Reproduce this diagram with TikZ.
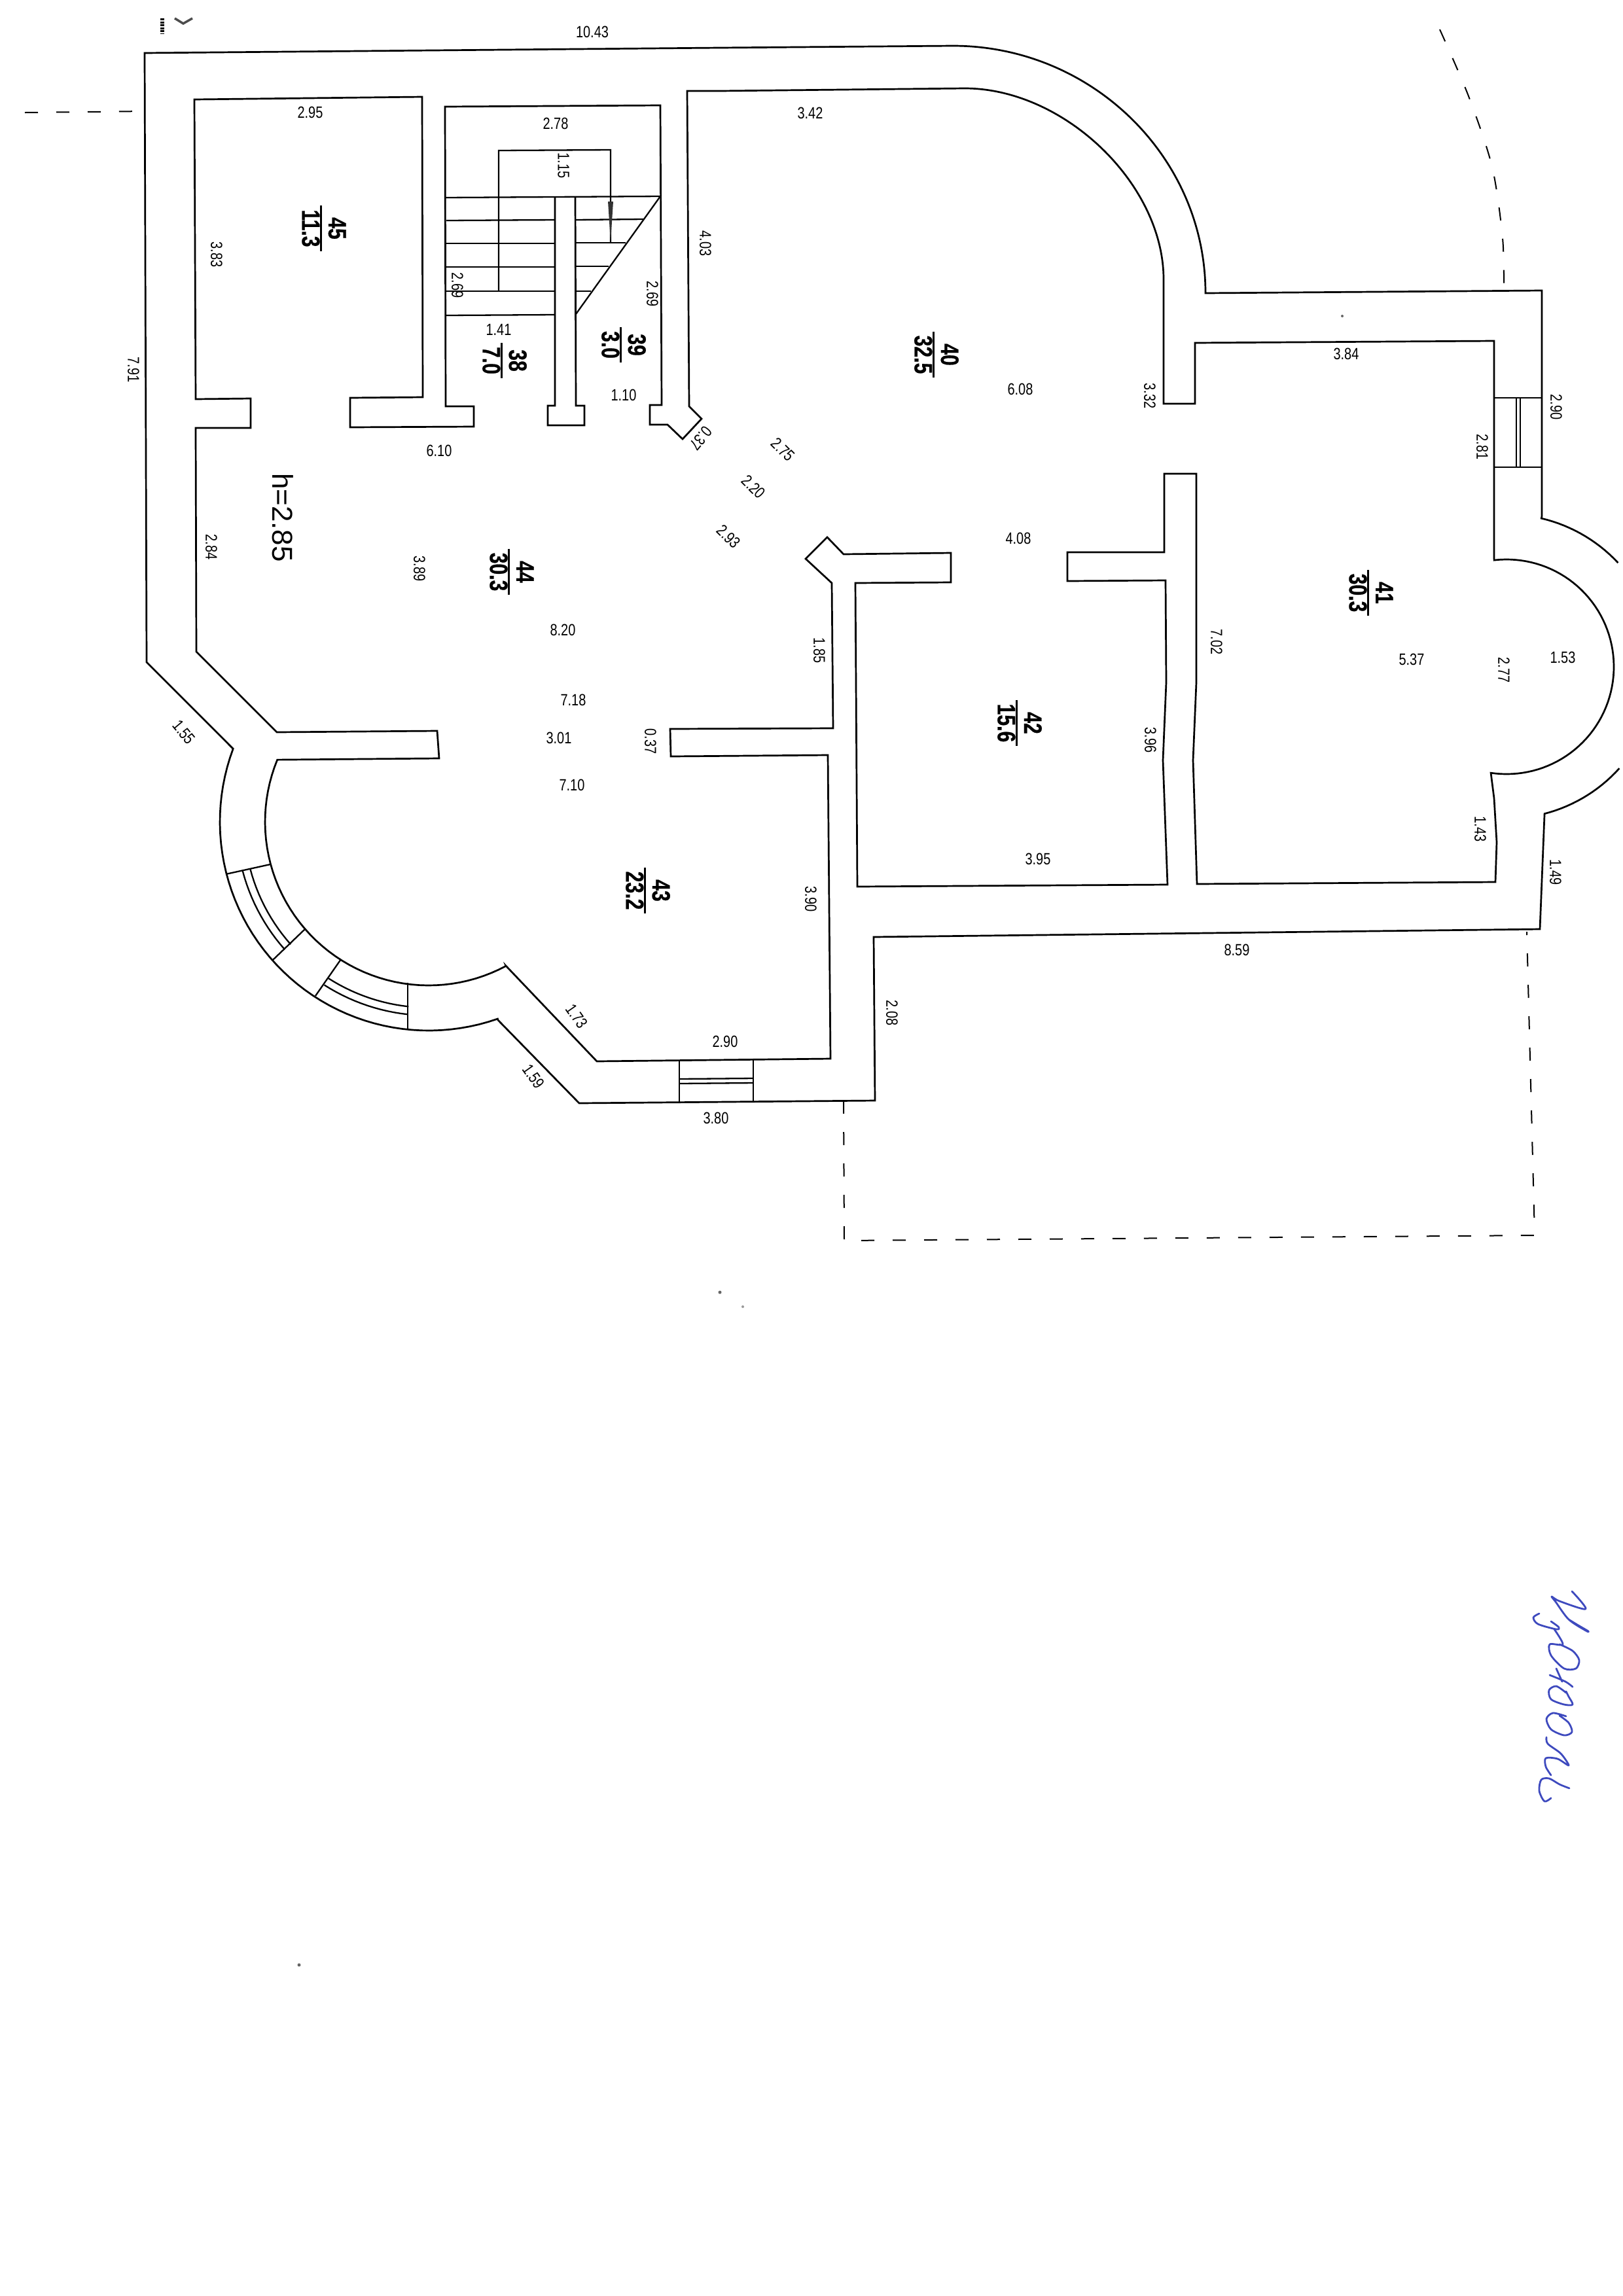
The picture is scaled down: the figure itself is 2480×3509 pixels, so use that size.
\documentclass[tikz,border=0pt]{standalone}
\usepackage{fontspec}
\newfontfamily\dimfont[FakeStretch=0.8]{Liberation Sans}
\newfontfamily\roomfont[FakeStretch=0.78,BoldFeatures={FakeStretch=0.78,FakeBold=0.5}]{Liberation Sans}
\newfontfamily\heightfont{Liberation Sans}
\usepackage{tikz}
\definecolor{penblue}{RGB}{62,74,190}
\setlength{\arrayrulewidth}{0.3mm}
\newcommand{\areafrac}[2]{\renewcommand{\arraystretch}{0.82}%
  \begin{tabular}{@{\hspace{0.6mm}}c@{\hspace{0.6mm}}}#1\\\hline #2\end{tabular}}
\tikzset{
  wall_l/.style = {draw=black, line width=0.27mm, line join=miter},
  thin_l/.style = {draw=black, line width=0.23mm},
  dash_l/.style = {draw=black, line width=0.2mm, dash pattern=on 2mm off 2.8mm},
  pen_l/.style = {draw=penblue, line width=0.28mm, line cap=round, line join=round},
  dim_n/.style = {inner sep=0pt, font=\dimfont\fontsize{7.1pt}{8pt}\selectfont},
  dim_v/.style = {dim_n, rotate=-90},
  room_n/.style = {inner sep=0pt, rotate=-90,
    font=\roomfont\bfseries\fontsize{11pt}{12pt}\selectfont},
}

\begin{document}
\begin{tikzpicture}[x=0.1mm,y=-0.1mm]
\useasboundingbox (0,0) rectangle (2480,3509);

% outer walls
\draw[wall_l] plot[domain=42:75.5, samples=16] ({2302+232*cos(\x)},{1019+232*sin(\x)})
  -- (2353,1420) -- (1335,1432) -- (1337,1682) -- (885,1686) -- (761,1559)
  -- plot[domain=70.7:200.5, samples=50] ({655+319*cos(\x)},{1256+319*sin(\x)})
  -- (224,1012) -- (221,81) -- (1100,73) -- (1456,70)
  .. controls (1668,70) and (1842,240) .. (1842,448)
  -- (2356,444) -- (2356,789)
  -- plot[domain=-76.8:-43, samples=16] ({2302+233*cos(\x)},{1019+233*sin(\x)});

% inner walls
\draw[wall_l] (297,152) -- (645,148) -- (646,607) -- (535,608) -- (535,653) -- (724,652)
  -- (724,621) -- (681,621) -- (680,163) -- (1009,161) -- (1011,619) -- (993,619) -- (993,649)
  -- (1020,649) -- (1043,671) -- (1072,640) -- (1053,621) -- (1050,139) -- (1100,139) -- (1474,135)
  .. controls (1626,135) and (1778,281) .. (1778,427)
  -- (1778,617) -- (1826,617) -- (1826,524) -- (2283,521) -- (2283,854)
  -- plot[domain=-96.6:98.4, samples=70] ({2302+164*cos(\x)},{1019+164*sin(\x)})
  -- (2283,1220) -- (2287,1287) -- (2285,1348) -- (1829,1351) -- (1823,1162) -- (1828,1043)
  -- (1828,724) -- (1779,724) -- (1779,844) -- (1631,844) -- (1631,888) -- (1781,887)
  -- (1782,1043) -- (1777,1162) -- (1784,1352) -- (1310,1355) -- (1307,891) -- (1453,890)
  -- (1453,845) -- (1289,847) -- (1264,821) -- (1231,854) -- (1271,891) -- (1273,1113)
  -- (1024,1114) -- (1025,1156) -- (1265,1154) -- (1269,1618) -- (912,1622) -- (773,1476)
  -- plot[domain=61.8:202.3, samples=50] ({655+250*cos(\x)},{1256+250*sin(\x)})
  -- (671,1159) -- (668,1117) -- (423,1119) -- (300,996) -- (299,654) -- (383,654) -- (383,609)
  -- (299,610) -- cycle;

% wall between the flights
\draw[wall_l] (848,301) -- (848,620) -- (837,620) -- (837,650) -- (893,650) -- (893,620)
  -- (880,620) -- (879,301);

% stairs
\draw[thin_l] (680,302) -- (1009,300) -- (880,480);
\draw[thin_l] (682,337) -- (848,336);
\draw[thin_l] (879,336) -- (983,335);
\draw[thin_l] (682,372) -- (848,372);
\draw[thin_l] (879,371) -- (956,371);
\draw[thin_l] (682,408) -- (848,408);
\draw[thin_l] (879,407) -- (930,407);
\draw[thin_l] (681,445) -- (848,445);
\draw[thin_l] (879,445) -- (903,445);
\draw[thin_l] (681,482) -- (848,481);
\draw[thin_l] (762,445) -- (762,230) -- (933,229) -- (933,370);
\fill[black!80] (929,308) -- (937,308) -- (933,370) -- cycle;

% windows
\draw[thin_l] (2283,608) -- (2357,608);
\draw[thin_l] (2283,714) -- (2357,714);
\draw[thin_l] (2317,608) -- (2317,714);
\draw[thin_l] (2323,608) -- (2323,714);
\draw[thin_l] (1038,1621) -- (1038,1685);
\draw[thin_l] (1151,1620) -- (1151,1683);
\draw[thin_l] (1038,1649) -- (1151,1648);
\draw[thin_l] (1038,1656) -- (1151,1655);
\draw[thin_l] (345,1336) -- (413,1321);
\draw[thin_l] (417,1467) -- (467,1419);
\draw[thin_l] (482,1522) -- (521,1466);
\draw[thin_l] (623,1502) -- (623,1574);
\draw[thin_l] plot[domain=165.2:138.4, samples=14] ({655+294*cos(\x)},{1256+294*sin(\x)});
\draw[thin_l] plot[domain=165.2:138.4, samples=14] ({655+282*cos(\x)},{1256+282*sin(\x)});
\draw[thin_l] plot[domain=122.6:96.2, samples=14] ({655+296*cos(\x)},{1256+296*sin(\x)});
\draw[thin_l] plot[domain=122.6:96.2, samples=14] ({655+284*cos(\x)},{1256+284*sin(\x)});

% dashed outlines
\draw[dash_l] (38,172) -- (222,170);
\draw[dash_l] plot[smooth] coordinates {(2200,45) (2244,147) (2280,255) (2296,364) (2298,444)};
\draw[dash_l] (1289,1682) -- (1290,1896) -- (2345,1888) -- (2333,1424);

% scan marks
\draw[black, line width=0.6mm, dash pattern=on 0.3mm off 0.15mm] (248,28) -- (248,51);
\draw[black!70, line width=0.35mm] (267,28) -- (280,36) -- (294,28);
\fill[black!60] (2051,483) circle (2);
\fill[black!60] (1100,1975) circle (2.5);
\fill[black!40] (1135,1997) circle (2);
\fill[black!60] (457,3003) circle (2.5);

% handwriting
\draw[pen_l] plot[smooth] coordinates {(2402,2432) (2423,2459) (2383,2447) (2371,2440) (2377,2448)
  (2397,2475) (2423,2492) (2427,2493) (2410,2483) (2397,2475)};
\draw[pen_l] plot[smooth] coordinates {(2352,2466) (2343,2472) (2350,2482) (2378,2490) (2382,2487)
  (2370,2478)};
\draw[pen_l] plot[smooth] coordinates {(2375,2490) (2388,2513) (2368,2513) (2370,2530) (2390,2550)
  (2408,2550) (2413,2537) (2403,2523) (2383,2513)};
\draw[pen_l] plot[smooth] coordinates {(2368,2560) (2392,2570) (2403,2578)};
\draw[pen_l] plot[smooth] coordinates {(2378,2550) (2387,2570)};
\draw[pen_l] plot[smooth] coordinates {(2393,2587) (2378,2577) (2367,2583) (2370,2597) (2390,2605)
  (2403,2605) (2397,2593) (2393,2585)};
\draw[pen_l] plot[smooth] coordinates {(2393,2623) (2373,2618) (2363,2627) (2370,2643) (2390,2652)
  (2402,2647) (2397,2633) (2383,2622)};
\draw[pen_l] plot[smooth] coordinates {(2363,2655) (2365,2665) (2385,2680) (2397,2698) (2380,2688)
  (2362,2687) (2362,2700) (2370,2713)};
\draw[pen_l] plot[smooth] coordinates {(2398,2733) (2383,2727) (2367,2718) (2355,2720) (2352,2737)
  (2360,2753) (2370,2748)};

% dimensions
\node[dim_n] (d1043) at (905,49) {10.43};
\node[dim_n] (d295) at (474,172) {2.95};
\node[dim_n] (d278) at (849,189) {2.78};
\node[dim_v] (d115) at (861,253) {1.15};
\node[dim_v] (d383) at (331,389) {3.83};
\node[dim_v] (d269a) at (699,436) {2.69};
\node[dim_v] (d269b) at (997,449) {2.69};
\node[dim_v] (d403) at (1078,372) {4.03};
\node[dim_n] (d141) at (762,504) {1.41};
\node[dim_n] (d110) at (953,604) {1.10};
\node[dim_n] (d610) at (671,689) {6.10};
\node[dim_v] (d791) at (204,565) {7.91};
\node[dim_n, rotate=-130] (d037a) at (1071,670) {0.37};
\node[dim_n] (d342) at (1238,173) {3.42};
\node[dim_n] (d608) at (1559,595) {6.08};
\node[dim_v] (d332) at (1757,605) {3.32};
\node[dim_n, rotate=-45] (d275) at (1196,687) {2.75};
\node[dim_n, rotate=-45] (d220) at (1151,744) {2.20};
\node[dim_n, rotate=-45] (d293) at (1113,820) {2.93};
\node[dim_n] (d408) at (1556,823) {4.08};
\node[dim_n] (d384) at (2057,541) {3.84};
\node[dim_v] (d290a) at (2378,622) {2.90};
\node[dim_v] (d281) at (2265,683) {2.81};
\node[dim_v] (d702) at (1859,981) {7.02};
\node[dim_n] (d537) at (2157,1008) {5.37};
\node[dim_v] (d277) at (2298,1024) {2.77};
\node[dim_n] (d153) at (2388,1005) {1.53};
\node[dim_v] (d396) at (1758,1131) {3.96};
\node[dim_v] (d185) at (1252,994) {1.85};
\node[dim_n] (d395) at (1586,1313) {3.95};
\node[dim_v] (d143) at (2262,1267) {1.43};
\node[dim_v] (d149) at (2377,1333) {1.49};
\node[dim_n] (d859) at (1890,1452) {8.59};
\node[dim_v] (d390) at (1239,1374) {3.90};
\node[dim_v] (d208) at (1363,1548) {2.08};
\node[dim_v] (d284) at (323,836) {2.84};
\node[dim_v] (d389) at (641,869) {3.89};
\node[dim_n] (d820) at (860,963) {8.20};
\node[dim_n] (d718) at (876,1070) {7.18};
\node[dim_n] (d301) at (854,1128) {3.01};
\node[dim_v] (d037b) at (994,1133) {0.37};
\node[dim_n] (d710) at (874,1200) {7.10};
\node[dim_n, rotate=-50] (d155) at (281,1119) {1.55};
\node[dim_n, rotate=-55] (d173) at (881,1553) {1.73};
\node[dim_n, rotate=-55] (d159) at (815,1645) {1.59};
\node[dim_n] (d290b) at (1108,1592) {2.90};
\node[dim_n] (d380) at (1094,1709) {3.80};
\node[inner sep=0pt, rotate=-90, font=\heightfont\fontsize{12.5pt}{14pt}\selectfont] (height) at (432,791) {h=2.85};

% rooms
\node[room_n] (room45) at (490,349) {\areafrac{45}{11.3}};
\node[room_n] (room38) at (766,551) {\areafrac{38}{7.0}};
\node[room_n] (room39) at (948,527) {\areafrac{39}{3.0}};
\node[room_n] (room40) at (1426,542) {\areafrac{40}{32.5}};
\node[room_n] (room41) at (2090,906) {\areafrac{41}{30.3}};
\node[room_n] (room42) at (1553,1105) {\areafrac{42}{15.6}};
\node[room_n] (room43) at (985,1361) {\areafrac{43}{23.2}};
\node[room_n] (room44) at (777,874) {\areafrac{44}{30.3}};
\end{tikzpicture}
\end{document}
